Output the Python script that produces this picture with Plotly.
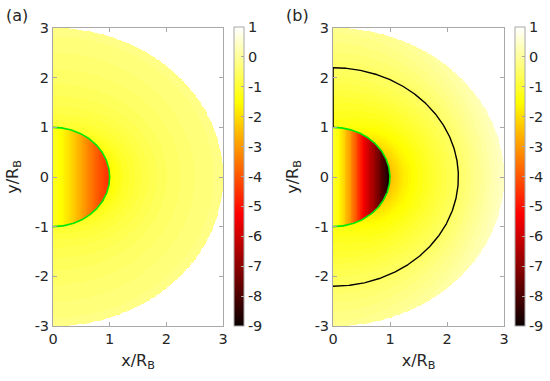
import numpy as np
import plotly.graph_objects as go

# ---- data ----
# inside the body (r < 1): value vs x
inner_x = [0.0, 0.1, 0.2, 0.3, 0.4, 0.5, 0.6, 0.7, 0.8, 0.9, 1.0]
inner_a = [-1.2, -1.4, -1.7, -2.0, -2.4, -2.8, -3.2, -3.6, -4.0, -4.3, -4.6]
inner_b = [-1.0, -1.5, -2.2, -3.0, -4.0, -5.0, -5.9, -6.6, -7.4, -8.2, -8.9]
# outside (1 < r < 3): value vs r along the x-axis and along the y-axis
outer_r = [1.0, 1.25, 1.5, 1.75, 2.0, 2.5, 3.0]
outer_a_x = [-1.5, -1.1, -0.85, -0.65, -0.5, -0.3, -0.15]
outer_a_y = [-1.0, -0.8, -0.65, -0.55, -0.45, -0.3, -0.15]
outer_b_x = [-2.4, -1.7, -1.3, -1.0, -0.7, -0.1, 0.5]
outer_b_y = [-1.3, -1.15, -1.0, -0.8, -0.6, -0.3, -0.05]
body_radius = 1.0
boundary_radius_b = 2.2
domain_radius = 3.0

x_ticks = [0, 1, 2, 3]
y_ticks = [-3, -2, -1, 0, 1, 2, 3]
cbar_ticks = [-9, -8, -7, -6, -5, -4, -3, -2, -1, 0, 1]
zmin, zmax = -9, 1

# ---- build field tables ----
gx = np.arange(0.0, 3.0001, 0.015)
gy = np.arange(-3.0, 3.0001, 0.015)
X, Y = np.meshgrid(gx, gy)
R = np.hypot(X, Y)
C2 = np.where(R > 0, (X / np.where(R > 0, R, 1)) ** 2, 1.0)


def field(inner, ox, oy):
    vin = np.interp(X, inner_x, inner)
    vx = np.interp(R, outer_r, ox)
    vy = np.interp(R, outer_r, oy)
    vout = vx * C2 + vy * (1 - C2)
    vout = np.floor(vout / 0.1) * 0.1
    z = np.where(R < body_radius, vin, vout)
    z = np.where(R > domain_radius, np.nan, z)
    return z


za = field(inner_a, outer_a_x, outer_a_y)
zb = field(inner_b, outer_b_x, outer_b_y)

hot = [[0.0, "rgb(10,0,0)"], [0.375, "rgb(255,0,0)"],
       [0.75, "rgb(255,255,0)"], [1.0, "rgb(255,255,255)"]]

fig = go.Figure()
fig.add_trace(go.Heatmap(x=gx, y=gy, z=za, coloraxis="coloraxis",
                         xaxis="x", yaxis="y", hoverinfo="skip"))
fig.add_trace(go.Heatmap(x=gx, y=gy, z=zb, coloraxis="coloraxis2",
                         xaxis="x2", yaxis="y2", hoverinfo="skip"))

th = np.linspace(-np.pi / 2, np.pi / 2, 400)
for xa, ya in (("x", "y"), ("x2", "y2")):
    fig.add_trace(go.Scatter(x=body_radius * np.cos(th), y=body_radius * np.sin(th),
                             mode="lines", line=dict(color="rgb(0,235,0)", width=1.6),
                             xaxis=xa, yaxis=ya, showlegend=False, hoverinfo="skip"))
fig.add_trace(go.Scatter(x=boundary_radius_b * np.cos(th), y=boundary_radius_b * np.sin(th),
                         mode="lines", line=dict(color="black", width=1.4),
                         xaxis="x2", yaxis="y2", showlegend=False, hoverinfo="skip"))
fig.add_trace(go.Scatter(x=[0, 0], y=[body_radius, boundary_radius_b],
                         mode="lines", line=dict(color="black", width=1.6),
                         xaxis="x2", yaxis="y2", showlegend=False, hoverinfo="skip",
                         cliponaxis=False))

W, H = 550, 381
font = dict(family="DejaVu Sans", size=14.5, color="#262626")
ax_common = dict(showline=True, mirror="ticks", linecolor="#a8a8a8", linewidth=1,
                 ticks="inside", ticklen=4, tickcolor="#a8a8a8", showgrid=False,
                 zeroline=False, tickfont=font, automargin=False)
yd = [1 - 326 / H, 1 - 28 / H]
fig.update_layout(
    width=W, height=H, margin=dict(l=0, r=0, t=0, b=0, autoexpand=False),
    paper_bgcolor="white", plot_bgcolor="white", font=font, showlegend=False,
    xaxis=dict(domain=[53 / W, 223 / W], range=[0, 3], tickvals=x_ticks,
               ticktext=[str(v) for v in x_ticks],
               title=dict(text="x/R<sub>B</sub>", font=dict(size=16), standoff=8),
               anchor="y", **ax_common),
    yaxis=dict(domain=yd, range=[-3, 3], tickvals=y_ticks,
               ticktext=[str(v) for v in y_ticks],
               title=dict(text="y/R<sub>B</sub>", font=dict(size=16), standoff=12),
               anchor="x", **ax_common),
    xaxis2=dict(domain=[333 / W, 504 / W], range=[0, 3], tickvals=x_ticks,
                ticktext=[str(v) for v in x_ticks],
                title=dict(text="x/R<sub>B</sub>", font=dict(size=16), standoff=8),
                anchor="y2", **ax_common),
    yaxis2=dict(domain=yd, range=[-3, 3], tickvals=y_ticks,
                ticktext=[str(v) for v in y_ticks],
                title=dict(text="y/R<sub>B</sub>", font=dict(size=16), standoff=12),
                anchor="x2", **ax_common),
)

cb_common = dict(thickness=10, len=(326 - 27) / H, lenmode="fraction",
                 y=1 - (27 + 326) / 2 / H, yanchor="middle", xanchor="left",
                 xpad=0, ypad=0, outlinewidth=1, outlinecolor="#a8a8a8",
                 ticks="inside", ticklen=3, tickcolor="#a8a8a8",
                 tickvals=cbar_ticks, ticktext=[str(v) for v in cbar_ticks],
                 tickfont=font)
fig.update_layout(
    coloraxis=dict(colorscale=hot, cmin=zmin, cmax=zmax,
                   colorbar=dict(x=234 / W, **cb_common)),
    coloraxis2=dict(colorscale=hot, cmin=zmin, cmax=zmax,
                    colorbar=dict(x=515 / W, **cb_common)),
)

fig.add_annotation(text="(a)", x=4 / W, y=1 - 15 / H, xref="paper", yref="paper",
                   xanchor="left", yanchor="middle", showarrow=False,
                   font=dict(family="DejaVu Sans", size=16, color="#262626"))
fig.add_annotation(text="(b)", x=284 / W, y=1 - 15 / H, xref="paper", yref="paper",
                   xanchor="left", yanchor="middle", showarrow=False,
                   font=dict(family="DejaVu Sans", size=16, color="#262626"))

fig.write_html("out.html", config={"displayModeBar": False},
               post_script="document.body.style.margin='0';document.body.style.padding='0';")
